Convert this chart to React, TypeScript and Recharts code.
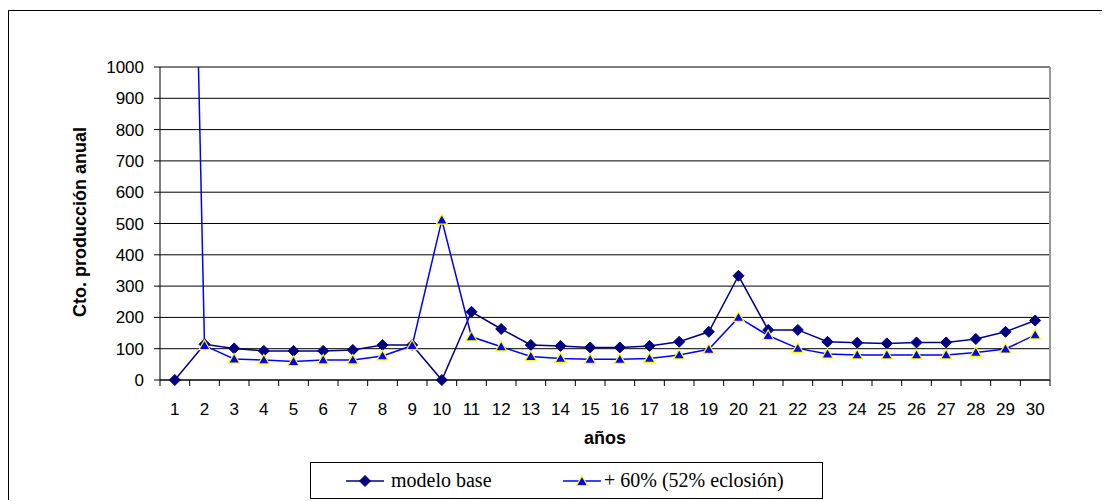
import { CartesianGrid, Line, LineChart, ReferenceLine, XAxis, YAxis } from "recharts"

const years = [1, 2, 3, 4, 5, 6, 7, 8, 9, 10, 11, 12, 13, 14, 15, 16, 17, 18, 19, 20, 21, 22, 23, 24, 25, 26, 27, 28, 29, 30]
const modeloBase = [0, 114, 101, 93, 93, 93, 96, 112, 112, 0, 218, 163, 112, 109, 104, 104, 109, 122, 154, 333, 160, 160, 122, 119, 117, 120, 120, 131, 154, 190]
const mas60 = [4500, 110, 67, 64, 59, 64, 64, 77, 110, 511, 138, 106, 75, 69, 66, 66, 69, 80, 98, 200, 142, 101, 83, 80, 80, 80, 80, 88, 99, 144]
const yTicks = [0, 100, 200, 300, 400, 500, 600, 700, 800, 900, 1000]

const seriesNames = ["modelo base", "+ 60% (52% eclosión)"]
const NAVY = "#000080"
const BLUE = "#0000FF"
const YELLOW = "#FFFF00"

const data = years.map((y, i) => ({ year: y, base: modeloBase[i], plus: mas60[i] }))
// label ticks at the years, tick marks between them
const xTicks = years.flatMap((y) => [y - 0.5, y]).concat([years[years.length - 1] + 0.5])

const Diamond = ({ cx, cy }: any) => {
  if (cx == null || cy == null) return null
  return <path d={`M${cx},${cy - 5.5} L${cx + 5.5},${cy} L${cx},${cy + 5.5} L${cx - 5.5},${cy} Z`} fill={NAVY} stroke={NAVY} />
}

const Triangle = ({ cx, cy }: any) => {
  if (cx == null || cy == null) return null
  return <path d={`M${cx},${cy - 5.5} L${cx + 5.5},${cy + 4} L${cx - 5.5},${cy + 4} Z`} fill={BLUE} stroke={YELLOW} strokeWidth={1.2} />
}

const XTick = ({ x, y, payload }: any) => {
  const v = payload.value
  if (Number.isInteger(v)) {
    return (
      <text x={x} y={y + 23} dy="0.71em" textAnchor="middle" fontSize={17} fill="#000" fontFamily="Liberation Sans, Arial, sans-serif">
        {v}
      </text>
    )
  }
  return <line x1={x} x2={x} y1={y} y2={y + 6} stroke="#000" />
}

const YTitle = () => (
  <text
    x={71}
    y={211}
    transform="rotate(-90 71 211)"
    textAnchor="middle"
    dominantBaseline="central"
    fontSize={18}
    fontWeight="bold"
    fill="#000"
    fontFamily="Liberation Sans, Arial, sans-serif"
  >
    Cto. producción anual
  </text>
)

const XTitle = () => (
  <text x={596} y={427} textAnchor="middle" dominantBaseline="central" fontSize={18} fontWeight="bold" fill="#000" fontFamily="Liberation Sans, Arial, sans-serif">
    años
  </text>
)

export default function App() {
  return (
    <div
      style={{
        position: "relative",
        marginTop: 2,
        width: 1102,
        height: 490,
        boxSizing: "border-box",
        borderTop: "1px solid #000",
        borderLeft: "1px solid #000",
        background: "#fff",
      }}
    >
      <LineChart width={1101} height={489} data={data} margin={{ top: 56, right: 60, bottom: 80, left: 81 }}>
        <CartesianGrid vertical={false} stroke="#000" />
        <XAxis
          dataKey="year"
          type="number"
          domain={[0.5, 30.5]}
          ticks={xTicks}
          interval={0}
          tickSize={0}
          tickMargin={0}
          tickLine={false}
          tick={<XTick />}
          height={40}
          stroke="#000"
          label={<XTitle />}
        />
        <YAxis
          domain={[0, 1000]}
          ticks={yTicks}
          allowDataOverflow
          interval={0}
          width={70}
          tickSize={6}
          tickMargin={10}
          stroke="#000"
          tick={{ fontSize: 17, fill: "#000", fontFamily: "Liberation Sans, Arial, sans-serif" }}
          label={<YTitle />}
        />
        {/* same scale, no overflow, so the base series is not clipped */}
        <YAxis yAxisId="base" domain={[0, 1000]} hide />
        <ReferenceLine x={30.5} stroke="#999" strokeWidth={2} />
        <Line yAxisId="base" dataKey="base" name={seriesNames[0]} stroke={NAVY} strokeWidth={1.5} dot={<Diamond />} isAnimationActive={false} />
        <Line dataKey="plus" name={seriesNames[1]} stroke={BLUE} strokeWidth={1.5} dot={<Triangle />} isAnimationActive={false} />
      </LineChart>
      <div
        style={{
          position: "absolute",
          left: 301,
          top: 451,
          width: 513,
          height: 37,
          boxSizing: "border-box",
          border: "1px solid #000",
          display: "flex",
          alignItems: "center",
          fontFamily: "Liberation Serif, Times New Roman, serif",
          fontSize: 20,
          color: "#000",
          whiteSpace: "nowrap",
        }}
      >
        <svg width={38} height={12} style={{ marginLeft: 35, flexShrink: 0 }}>
          <line x1={0} x2={38} y1={6} y2={6} stroke={NAVY} strokeWidth={1.5} />
          <Diamond cx={19} cy={6} />
        </svg>
        <span style={{ marginLeft: 7, width: 172 }}>{seriesNames[0]}</span>
        <svg width={38} height={12} style={{ flexShrink: 0 }}>
          <line x1={0} x2={38} y1={6} y2={6} stroke={BLUE} strokeWidth={1.5} />
          <Triangle cx={19} cy={6.5} />
        </svg>
        <span style={{ marginLeft: 3 }}>{seriesNames[1]}</span>
      </div>
    </div>
  )
}
